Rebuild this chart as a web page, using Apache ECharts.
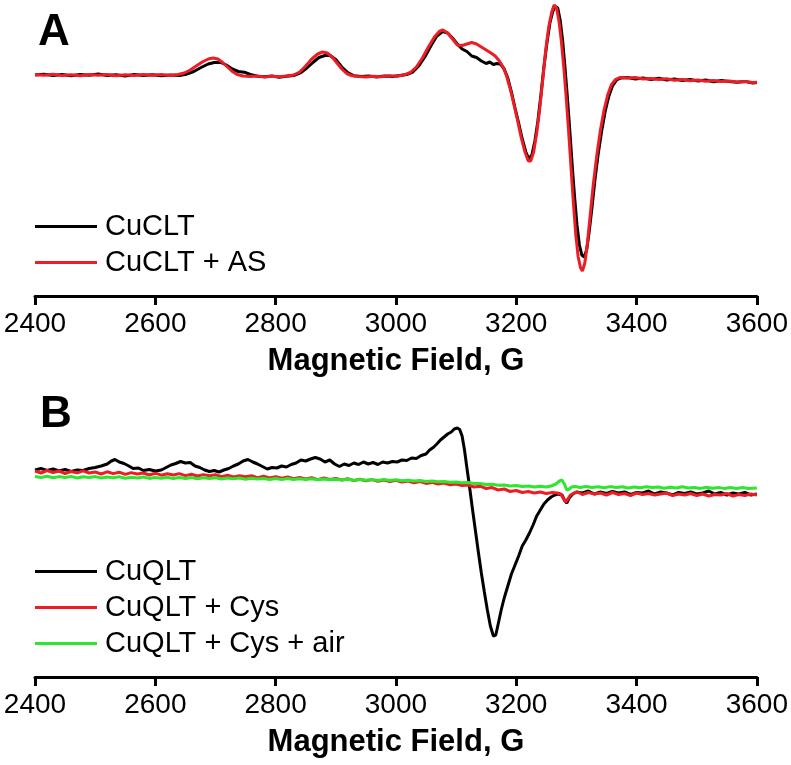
<!DOCTYPE html>
<html>
<head>
<meta charset="utf-8">
<script src="https://cdn.jsdelivr.net/npm/echarts@6/dist/echarts.min.js"></script>
<style>
html,body{margin:0;padding:0;background:#fff;}
#chart{width:791px;height:765px;}
</style>
</head>
<body>
<div id="chart"></div>
<script>
// Panel labels and names
const panelLabels = ['A', 'B'];
const axisTitle = 'Magnetic Field, G';
const xMin = 2400, xMax = 3600, xStep = 200;
const namesA = ['CuCLT', 'CuCLT + AS'];
const namesB = ['CuQLT', 'CuQLT + Cys', 'CuQLT + Cys + air'];

// Panel A: CuCLT (black)
const cuCLT = [[2400,0],[2415,0.8],[2430,-0.4],[2445,0.6],[2460,-0.8],[2475,0.5],[2490,-0.3],[2505,0.9],[2520,-0.6],[2535,0.2],[2550,-0.9],[2565,0.4],[2580,-0.5],[2595,0.3],[2610,-0.7],[2625,0.1],[2640,-0.4],[2652,0.8],[2664,3.5],[2676,7.5],[2688,11],[2698,12.5],[2708,12.8],[2718,10],[2728,6],[2738,3.5],[2748,2.8],[2758,0.5],[2770,-1.2],[2782,-1.8],[2794,-1],[2806,-2.2],[2818,-1.3],[2830,-0.5],[2842,2.5],[2852,7],[2862,12.5],[2872,17.5],[2882,19.5],[2890,19.8],[2900,15.5],[2910,8],[2920,2.5],[2930,-0.8],[2942,-1.6],[2955,-0.9],[2968,-2],[2981,-1.1],[2994,-1.5],[3007,-0.6],[3018,0.5],[3028,3],[3038,9],[3048,18],[3058,29],[3068,39],[3078,43.5],[3086,42],[3094,37],[3102,31],[3110,26],[3118,23.5],[3126,19],[3134,17.5],[3142,14],[3150,11.5],[3156,13],[3162,10.5],[3168,11.5],[3174,10.8],[3180,6],[3186,-3],[3192,-17],[3198,-33],[3204,-48],[3210,-64],[3216,-77],[3221,-84],[3226,-80],[3231,-66],[3236,-46],[3241,-20],[3246,8],[3251,32],[3256,52],[3261,64],[3265,68.5],[3269,67],[3273,55],[3277,35],[3281,8],[3285,-22],[3289,-55],[3293,-90],[3297,-122],[3301,-150],[3305,-170],[3309,-180],[3313,-182],[3317,-175],[3321,-158],[3326,-132],[3331,-104],[3336,-80],[3342,-56],[3348,-36],[3354,-21],[3360,-11],[3367,-5],[3374,-3],[3385,-2.5],[3398,-4],[3411,-3],[3424,-4.5],[3437,-3.2],[3450,-5],[3463,-4],[3476,-5.5],[3489,-4.4],[3502,-6],[3515,-5],[3528,-6.8],[3541,-5.6],[3554,-6.5],[3567,-7.2],[3580,-6.4],[3593,-8],[3600,-7.5]];

// Panel A: CuCLT + AS (red)
const cuCLT_AS = [[2400,0.4],[2415,-0.3],[2430,0.7],[2445,-0.5],[2460,0.3],[2475,-0.7],[2490,0.6],[2505,-0.2],[2520,0.5],[2535,-0.8],[2550,0.2],[2565,-0.5],[2580,0.6],[2595,-0.3],[2610,0.4],[2625,-0.6],[2638,0.5],[2648,2],[2658,5],[2668,9],[2678,13],[2688,16],[2696,17],[2704,16],[2712,12.5],[2720,8],[2728,3.5],[2736,0.5],[2746,-1],[2758,-1.5],[2770,-1.1],[2782,-2],[2794,-1.2],[2806,-1.8],[2818,-0.9],[2830,0],[2840,3],[2850,9],[2860,16],[2870,21],[2878,23],[2886,22],[2894,18],[2902,12],[2910,6],[2918,1.5],[2926,-0.5],[2938,-1.4],[2950,-2],[2963,-1.2],[2976,-1.8],[2989,-0.8],[3002,-1.2],[3014,0.2],[3024,2.5],[3034,8],[3044,17],[3054,28],[3064,38],[3072,43.5],[3078,45],[3086,42],[3094,36],[3102,30],[3110,29.5],[3118,31],[3126,32.5],[3134,31],[3142,28],[3150,25],[3158,22],[3165,19],[3172,14],[3178,8],[3184,-1],[3190,-14],[3196,-29],[3202,-45],[3208,-62],[3214,-76],[3220,-86],[3224,-86],[3229,-77],[3234,-58],[3239,-34],[3244,-5],[3249,25],[3254,48],[3259,63],[3263,70],[3267,67],[3271,54],[3275,34],[3279,8],[3283,-22],[3287,-56],[3291,-92],[3295,-128],[3299,-160],[3303,-182],[3307,-193],[3310,-196],[3314,-188],[3318,-170],[3323,-140],[3328,-110],[3334,-80],[3340,-55],[3346,-35],[3352,-20],[3358,-10],[3365,-4.5],[3372,-2.5],[3385,-3],[3398,-2.6],[3411,-4],[3424,-3.4],[3437,-4.6],[3450,-3.8],[3463,-5.2],[3476,-4.5],[3489,-5.8],[3502,-5],[3515,-6.2],[3528,-5.4],[3541,-6.6],[3554,-6],[3567,-7],[3580,-6.6],[3593,-7.6],[3600,-7.2]];

// Panel B: CuQLT (black)
const cuQLT = [[2400,0],[2410,1.5],[2420,-0.5],[2430,1],[2440,-1],[2450,0.5],[2460,-1.5],[2470,0],[2480,-0.5],[2490,1.5],[2500,2.5],[2510,4],[2520,6],[2527,9],[2533,10.5],[2540,8],[2548,6.5],[2556,4],[2563,1.5],[2572,2],[2580,-0.5],[2590,0.5],[2600,-1],[2610,0],[2618,2.5],[2626,5],[2634,6.5],[2642,8.5],[2650,7],[2658,7.5],[2666,4],[2674,2.5],[2682,0],[2690,-1.5],[2698,-0.5],[2706,-2],[2714,0],[2722,1.5],[2730,4],[2738,6],[2746,9],[2754,10.5],[2762,8],[2770,6],[2778,3.5],[2786,1],[2794,2.5],[2802,2],[2810,4],[2818,3],[2826,5.5],[2834,7],[2842,10],[2850,9],[2858,11],[2866,12.5],[2874,11],[2882,8],[2890,10],[2898,6],[2906,3.5],[2914,6],[2922,4.5],[2930,7],[2938,5.5],[2946,8],[2954,6],[2962,7.5],[2970,5.5],[2978,8],[2986,7],[2994,8.5],[3002,8],[3010,10],[3018,9.5],[3026,12],[3034,11.5],[3042,14.5],[3050,16],[3056,20],[3062,22.5],[3068,26],[3074,30],[3080,33],[3086,36],[3092,38],[3097,41],[3102,42],[3106,40.5],[3110,34],[3114,20],[3118,2],[3122,-15],[3127,-38],[3132,-60],[3137,-82],[3142,-103],[3147,-122],[3152,-140],[3157,-156],[3162,-166],[3166,-165],[3170,-154],[3175,-140],[3180,-128],[3186,-116],[3192,-104],[3198,-95],[3204,-86],[3210,-76],[3216,-70],[3222,-63],[3228,-55],[3234,-46],[3240,-40],[3246,-34],[3252,-30],[3258,-27],[3264,-25],[3270,-24],[3276,-25],[3280,-30],[3284,-33],[3288,-28],[3294,-24],[3300,-22],[3310,-23],[3320,-21],[3330,-24],[3340,-22],[3350,-23.5],[3360,-21.5],[3370,-23],[3380,-22],[3390,-24.5],[3400,-22.5],[3410,-23],[3420,-21],[3430,-24],[3440,-22],[3450,-23],[3460,-25],[3470,-22.5],[3480,-23.5],[3490,-22],[3500,-24],[3510,-23],[3520,-21],[3530,-24],[3540,-22.5],[3550,-25],[3560,-23],[3570,-24],[3580,-22.5],[3590,-25],[3600,-24]];

// Panel B: CuQLT + Cys (red)
const cuQLT_Cys = [[2400,-1],[2410,-3],[2420,-0.5],[2430,-2.5],[2440,-1],[2450,-3.5],[2460,-1.5],[2470,-2.8],[2480,-0.8],[2490,-3],[2500,-2],[2510,-4],[2520,-1.8],[2530,-3.6],[2540,-2.2],[2550,-4.4],[2560,-2.6],[2570,-4],[2580,-3],[2590,-5],[2600,-3.2],[2610,-5.2],[2620,-3.8],[2630,-5],[2640,-3.6],[2650,-5.6],[2660,-4.2],[2670,-6],[2680,-4.6],[2690,-5.8],[2700,-4.8],[2710,-6.6],[2720,-5.2],[2730,-7],[2740,-5.6],[2750,-6.8],[2760,-5.8],[2770,-7.6],[2780,-6.2],[2790,-8],[2800,-6.6],[2810,-8.2],[2820,-7],[2830,-8.8],[2840,-7.4],[2850,-9],[2860,-7.6],[2870,-9.6],[2880,-8],[2890,-9.4],[2900,-8.4],[2910,-10],[2920,-8.8],[2930,-10.6],[2940,-9.2],[2950,-10.8],[2960,-9.6],[2970,-11.2],[2980,-10],[2990,-11.6],[3000,-10.4],[3010,-12],[3020,-11],[3030,-12.8],[3040,-11.6],[3050,-13.4],[3060,-12.4],[3070,-14],[3080,-13],[3090,-14.8],[3100,-14],[3110,-15.6],[3120,-15],[3130,-17],[3140,-16.2],[3150,-18.5],[3160,-17.6],[3170,-20],[3180,-19],[3190,-21.5],[3200,-20.5],[3210,-22.5],[3220,-21.5],[3230,-23],[3240,-22],[3250,-23.5],[3260,-22.5],[3268,-23],[3274,-24],[3278,-28],[3282,-32],[3286,-29],[3290,-25],[3296,-23],[3302,-22],[3310,-24.5],[3320,-22.5],[3330,-24],[3340,-23],[3350,-25],[3360,-22.5],[3370,-24.5],[3380,-23.5],[3390,-25.5],[3400,-23],[3410,-24.5],[3420,-23.5],[3430,-25],[3440,-24],[3450,-23],[3460,-25.5],[3470,-24],[3480,-25],[3490,-23.5],[3500,-25.5],[3510,-24],[3520,-26],[3530,-24.5],[3540,-25],[3550,-23.5],[3560,-26],[3570,-24.5],[3580,-25.5],[3590,-24],[3600,-25]];

// Panel B: CuQLT + Cys + air (green)
const cuQLT_Cys_air = [[2400,-6.5],[2410,-7.5],[2420,-6.2],[2430,-7.8],[2440,-6.6],[2450,-7.4],[2460,-6.4],[2470,-8],[2480,-6.8],[2490,-7.6],[2500,-6.6],[2510,-8],[2520,-7],[2530,-7.8],[2540,-6.8],[2550,-8.2],[2560,-7.2],[2570,-8],[2580,-7],[2590,-8.4],[2600,-7.4],[2610,-8.2],[2620,-7.2],[2630,-8.6],[2640,-7.6],[2650,-8.4],[2660,-7.6],[2670,-8.8],[2680,-7.8],[2690,-8.6],[2700,-7.8],[2710,-9],[2720,-8],[2730,-8.8],[2740,-8],[2750,-9.2],[2760,-8.2],[2770,-9],[2780,-8.4],[2790,-9.4],[2800,-8.4],[2810,-9.4],[2820,-8.6],[2830,-9.6],[2840,-8.8],[2850,-9.6],[2860,-8.8],[2870,-9.8],[2880,-9],[2890,-9.8],[2900,-9.2],[2910,-10],[2920,-9.2],[2930,-10.2],[2940,-9.4],[2950,-10.2],[2960,-9.6],[2970,-10.4],[2980,-9.6],[2990,-10.6],[3000,-9.8],[3010,-10.8],[3020,-10.2],[3030,-11],[3040,-10.6],[3050,-11.4],[3060,-11],[3070,-11.8],[3080,-11.4],[3090,-12.2],[3100,-12],[3110,-12.8],[3120,-12.6],[3130,-13.6],[3140,-13.4],[3150,-14.4],[3160,-14.2],[3170,-15.2],[3180,-15],[3190,-16],[3200,-15.6],[3210,-16.6],[3220,-16],[3230,-17],[3240,-16.2],[3250,-17],[3258,-16],[3266,-14],[3272,-11],[3276,-10],[3280,-14],[3284,-20],[3288,-19],[3292,-17],[3298,-16.5],[3306,-17.5],[3316,-16.5],[3326,-17.6],[3336,-16.8],[3346,-17.8],[3356,-16.6],[3366,-17.4],[3376,-16.8],[3386,-18],[3396,-17],[3406,-17.8],[3416,-16.8],[3426,-17.6],[3436,-17],[3446,-18.2],[3456,-17.2],[3466,-18],[3476,-16.8],[3486,-18],[3496,-17.4],[3506,-18.4],[3516,-17.2],[3526,-18.2],[3536,-17.4],[3546,-18.6],[3556,-17.6],[3566,-18.4],[3576,-17.6],[3586,-18.6],[3600,-18]];

const FONT = '"Liberation Sans", Arial, sans-serif';
const BLACK = '#000000', RED = '#ee1c24', GREEN = '#2ee62e';

function xAxisCfg(gridIndex) {
  return {
    type: 'value', gridIndex: gridIndex, min: xMin, max: xMax, interval: xStep,
    name: axisTitle, nameLocation: 'middle', nameGap: 50,
    nameTextStyle: { fontFamily: FONT, fontSize: 31, fontWeight: 'bold', color: '#000' },
    axisLine: { show: true, onZero: false, lineStyle: { color: '#000', width: 3 } },
    axisTick: { show: true, inside: false, length: 9, lineStyle: { color: '#000', width: 3 } },
    axisLabel: { fontFamily: FONT, fontSize: 28, color: '#000', margin: 14, formatter: function (v) { return String(v); } },
    splitLine: { show: false }
  };
}
function yAxisCfg(gridIndex, mn, mx) {
  return { type: 'value', gridIndex: gridIndex, min: mn, max: mx, show: false, splitLine: { show: false } };
}
function lineSeries(name, data, color, idx, z) {
  return {
    type: 'line', name: name, data: data, xAxisIndex: idx, yAxisIndex: idx,
    showSymbol: false, symbol: 'none', z: z,
    lineStyle: { color: color, width: 3 }, itemStyle: { color: color },
    animation: false
  };
}
const legendCfg = (names, top) => ({
  data: names, left: 35, top: top, orient: 'vertical', padding: 0,
  icon: 'rect', itemWidth: 62, itemHeight: 3, itemGap: 5,
  textStyle: { fontFamily: FONT, fontSize: 29, color: '#000', lineHeight: 31, padding: [0, 0, 0, 3] }
});

const chart = echarts.init(document.getElementById('chart'), null, { renderer: 'canvas' });
chart.setOption({
  animation: false,
  backgroundColor: '#ffffff',
  grid: [
    { left: 35, right: 34, top: 0, bottom: 469 },
    { left: 35, right: 34, top: 395, bottom: 88 }
  ],
  xAxis: [xAxisCfg(0), xAxisCfg(1)],
  yAxis: [yAxisCfg(0, -221, 75), yAxisCfg(1, -207, 75)],
  legend: [legendCfg(namesA, 211), legendCfg(namesB, 556)],
  graphic: [
    { type: 'text', left: 38, top: 11, style: { text: panelLabels[0], font: 'bold 44px ' + FONT, fill: '#000' } },
    { type: 'text', left: 40, top: 393, style: { text: panelLabels[1], font: 'bold 44px ' + FONT, fill: '#000' } }
  ],
  series: [
    lineSeries(namesA[0], cuCLT, BLACK, 0, 2),
    lineSeries(namesA[1], cuCLT_AS, RED, 0, 3),
    lineSeries(namesB[0], cuQLT, BLACK, 1, 2),
    lineSeries(namesB[1], cuQLT_Cys, RED, 1, 3),
    lineSeries(namesB[2], cuQLT_Cys_air, GREEN, 1, 4)
  ]
});
</script>
</body>
</html>
